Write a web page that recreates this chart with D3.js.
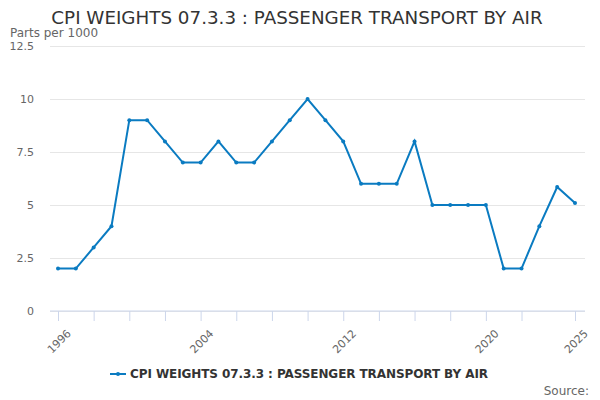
<!DOCTYPE html>
<html>
<head>
<meta charset="utf-8">
<script src="https://cdn.jsdelivr.net/npm/d3@7"></script>
<style>
  body { margin: 0; background: #fff; }
  text { font-family: "DejaVu Sans", sans-serif; }
</style>
</head>
<body>
<div id="chart"></div>
<script>
// data
var years = d3.range(1996, 2026);
var weights = [2, 2, 3, 4, 9, 9, 8, 7, 7, 8, 7, 7, 8, 9, 10, 9, 8, 6, 6, 6, 8, 5, 5, 5, 5, 2, 2, 4, 5.85, 5.1];
var yTicks = [0, 2.5, 5, 7.5, 10, 12.5];
var xTickYears = [1996, 1998, 2000, 2002, 2004, 2006, 2008, 2010, 2012, 2014, 2016, 2018, 2020, 2022, 2025];
var xLabelYears = [1996, 2004, 2012, 2020, 2025];
var seriesName = 'CPI WEIGHTS 07.3.3 : PASSENGER TRANSPORT BY AIR';

var width = 600, height = 400;
var plot = { left: 50, right: 585, top: 46, bottom: 311 };
var lineColor = '#0a7bc1';

var x = d3.scaleLinear().domain([1996, 2025]).range([58, 575]);
var y = d3.scaleLinear().domain([0, 12.5]).range([plot.bottom, plot.top]);

var svg = d3.select('#chart').append('svg')
  .attr('width', width)
  .attr('height', height);

/* Title */
svg.append('text')
  .attr('x', 297)
  .attr('y', 24)
  .attr('text-anchor', 'middle')
  .attr('font-size', 18.3)
  .attr('fill', '#333')
  .text(seriesName);

svg.append('text')
  .attr('x', 10)
  .attr('y', 37)
  .attr('font-size', 12)
  .attr('fill', '#666')
  .text('Parts per 1000');

/* Grid + y labels */
var yAxis = d3.axisLeft(y)
  .tickValues(yTicks)
  .tickSize(-(plot.right - plot.left))
  .tickPadding(16)
  .tickFormat(d => String(d));

svg.append('g')
  .attr('transform', 'translate(' + plot.left + ',0)')
  .call(yAxis)
  .call(g => g.select('.domain').remove())
  .call(g => g.selectAll('line').attr('stroke', '#e6e6e6'))
  .call(g => g.selectAll('text').attr('fill', '#666').attr('font-size', 11)
    .attr('font-family', '"DejaVu Sans", sans-serif'));

/* X axis */
var xAxis = d3.axisBottom(x)
  .tickValues(xTickYears)
  .tickSize(10)
  .tickFormat(d => xLabelYears.indexOf(d) >= 0 ? d : '');

var gx = svg.append('g')
  .attr('transform', 'translate(0,' + plot.bottom + ')')
  .call(xAxis);

gx.select('.domain').attr('d', 'M' + plot.left + ',0H' + plot.right).attr('stroke', '#ccd6eb');
gx.selectAll('line').attr('stroke', '#ccd6eb');
gx.selectAll('text')
  .attr('fill', '#666')
  .attr('font-size', 11)
  .attr('font-family', '"DejaVu Sans", sans-serif')
  .attr('text-anchor', 'end')
  .attr('dy', null)
  .attr('transform', 'translate(4,14) rotate(-45)');

/* Line */
var points = years.map((yr, i) => ({ year: yr, value: weights[i] }));

var line = d3.line()
  .x(d => x(d.year))
  .y(d => y(d.value));

svg.append('path')
  .datum(points)
  .attr('d', line)
  .attr('fill', 'none')
  .attr('stroke', lineColor)
  .attr('stroke-width', 2);

svg.append('g')
  .selectAll('circle')
  .data(points)
  .enter()
  .append('circle')
  .attr('cx', d => x(d.year))
  .attr('cy', d => y(d.value))
  .attr('r', 2)
  .attr('fill', lineColor);

/* Legend */
var legend = svg.append('g').attr('transform', 'translate(110,374)');
legend.append('line')
  .attr('x1', 0).attr('x2', 16)
  .attr('y1', 0).attr('y2', 0)
  .attr('stroke', lineColor)
  .attr('stroke-width', 2);
legend.append('circle')
  .attr('cx', 8).attr('cy', 0).attr('r', 2)
  .attr('fill', lineColor);
legend.append('text')
  .attr('x', 20)
  .attr('y', 4)
  .attr('font-size', 12)
  .attr('font-weight', 'bold')
  .attr('fill', '#333')
  .attr('textLength', 358)
  .text(seriesName);

svg.append('text')
  .attr('x', 589)
  .attr('y', 395)
  .attr('text-anchor', 'end')
  .attr('font-size', 12)
  .attr('fill', '#666')
  .text('Source:');
</script>
</body>
</html>
